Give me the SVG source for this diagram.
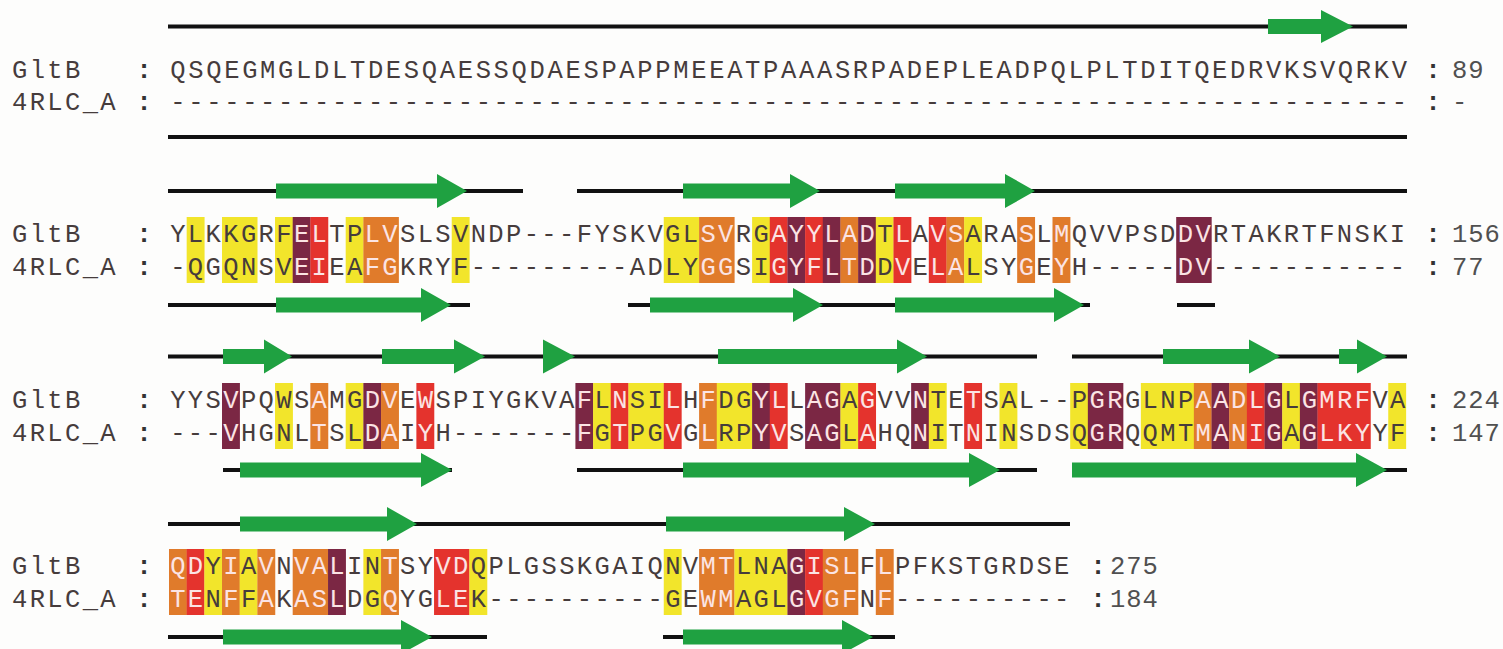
<svg xmlns="http://www.w3.org/2000/svg" width="1503" height="649" viewBox="0 0 1503 649">
<defs>
<style>
.bg{fill:#fdfdfc}
.seq{font-family:"Liberation Mono",monospace;font-size:25.5px;letter-spacing:2.37px;fill:#463c3c}
.s1{letter-spacing:2.66px}
.l{fill:#fbe4e4}
.num{font-family:"Liberation Mono",monospace;font-size:25.5px;letter-spacing:1px;fill:#505050}
.col{font-family:"Liberation Mono",monospace;font-size:26px;font-weight:bold;fill:#333;text-anchor:middle}
.y{fill:#f2e52b}.o{fill:#e07b2b}.r{fill:#e4332d}.m{fill:#7b2744}
.ln{stroke:#111;stroke-width:4;fill:none}
.ar{fill:#1fa141}
</style>
</defs>
<rect class="bg" x="0" y="0" width="1503" height="649"/>

<g id="row1">
<text class="seq" x="12" y="77.5">GltB</text><text class="col" x="144" y="77.5">:</text>
<text class="seq" x="12" y="109.5">4RLC_A</text><text class="col" x="144" y="109.5">:</text>
<text class="seq s1" x="170.3" y="77.5">QSQEGMGLDLTDESQAESSQDAESPAPPMEEATPAAASRPADEPLEADPQLPLTDITQEDRVKSVQRKV</text>
<text class="seq s1" x="170.3" y="109.5">---------------------------------------------------------------------</text>
<text class="col" x="1433" y="77.5">:</text><text class="num" x="1452" y="77.5">89</text>
<text class="col" x="1433" y="109.5">:</text><text class="num" x="1452" y="109.5">-</text>
</g>

<g id="row2">
<rect class="y" x="186.67" y="217" width="17.9" height="66"/>
<rect class="y" x="222.01" y="217" width="35.5" height="66"/>
<rect class="y" x="275.02" y="217" width="17.9" height="66"/>
<rect class="m" x="292.69" y="217" width="17.9" height="66"/>
<rect class="r" x="310.36" y="217" width="17.9" height="66"/>
<rect class="y" x="345.7" y="217" width="17.9" height="66"/>
<rect class="o" x="363.37" y="217" width="35.5" height="66"/>
<rect class="y" x="451.72" y="217" width="17.9" height="66"/>
<rect class="y" x="663.76" y="217" width="35.5" height="66"/>
<rect class="o" x="699.1" y="217" width="35.5" height="66"/>
<rect class="y" x="752.11" y="217" width="17.9" height="66"/>
<rect class="r" x="769.78" y="217" width="17.9" height="66"/>
<rect class="m" x="787.45" y="217" width="17.9" height="66"/>
<rect class="r" x="805.12" y="217" width="17.9" height="66"/>
<rect class="m" x="822.79" y="217" width="17.9" height="66"/>
<rect class="o" x="840.46" y="217" width="17.9" height="66"/>
<rect class="m" x="858.13" y="217" width="17.9" height="66"/>
<rect class="y" x="875.8" y="217" width="17.9" height="66"/>
<rect class="r" x="893.47" y="217" width="17.9" height="66"/>
<rect class="r" x="928.81" y="217" width="17.9" height="66"/>
<rect class="o" x="946.48" y="217" width="17.9" height="66"/>
<rect class="y" x="964.15" y="217" width="17.9" height="66"/>
<rect class="o" x="1017.16" y="217" width="17.9" height="66"/>
<rect class="o" x="1052.5" y="217" width="17.9" height="66"/>
<rect class="m" x="1176.19" y="217" width="35.5" height="66"/>
<text class="seq" x="12" y="242">GltB</text><text class="col" x="144" y="242">:</text>
<text class="seq" x="12" y="275">4RLC_A</text><text class="col" x="144" y="275">:</text>
<text class="seq" x="170.2" y="242">YLKKGRF<tspan class="l">EL</tspan>TP<tspan class="l">LV</tspan>SLSVNDP---FYSKVGL<tspan class="l">SV</tspan>RG<tspan class="l">AYYLAD</tspan>T<tspan class="l">L</tspan>A<tspan class="l">VS</tspan>ARA<tspan class="l">S</tspan>L<tspan class="l">M</tspan>QVVPSD<tspan class="l">DV</tspan>RTAKRTFNSKI</text>
<text class="seq" x="170.2" y="275">-QGQNSV<tspan class="l">EI</tspan>EA<tspan class="l">FG</tspan>KRYF---------ADLY<tspan class="l">GG</tspan>SI<tspan class="l">GYFLTD</tspan>D<tspan class="l">V</tspan>E<tspan class="l">LA</tspan>LSY<tspan class="l">G</tspan>E<tspan class="l">Y</tspan>H-----<tspan class="l">DV</tspan>-----------</text>
<text class="col" x="1433" y="242">:</text><text class="num" x="1452" y="242">156</text>
<text class="col" x="1433" y="275">:</text><text class="num" x="1452" y="275">77</text>
</g>

<g id="row3">
<rect class="m" x="222.01" y="383" width="17.9" height="66"/>
<rect class="y" x="275.02" y="383" width="17.9" height="66"/>
<rect class="o" x="310.36" y="383" width="17.9" height="66"/>
<rect class="y" x="345.7" y="383" width="17.9" height="66"/>
<rect class="m" x="363.37" y="383" width="17.9" height="66"/>
<rect class="o" x="381.04" y="383" width="17.9" height="66"/>
<rect class="r" x="416.38" y="383" width="17.9" height="66"/>
<rect class="m" x="575.41" y="383" width="17.9" height="66"/>
<rect class="y" x="593.08" y="383" width="17.9" height="66"/>
<rect class="r" x="610.75" y="383" width="17.9" height="66"/>
<rect class="y" x="628.42" y="383" width="35.5" height="66"/>
<rect class="r" x="663.76" y="383" width="17.9" height="66"/>
<rect class="o" x="699.1" y="383" width="17.9" height="66"/>
<rect class="y" x="716.77" y="383" width="35.5" height="66"/>
<rect class="m" x="752.11" y="383" width="17.9" height="66"/>
<rect class="r" x="769.78" y="383" width="17.9" height="66"/>
<rect class="m" x="805.12" y="383" width="35.5" height="66"/>
<rect class="y" x="840.46" y="383" width="17.9" height="66"/>
<rect class="r" x="858.13" y="383" width="17.9" height="66"/>
<rect class="m" x="911.14" y="383" width="17.9" height="66"/>
<rect class="y" x="928.81" y="383" width="17.9" height="66"/>
<rect class="r" x="964.15" y="383" width="17.9" height="66"/>
<rect class="y" x="999.49" y="383" width="17.9" height="66"/>
<rect class="y" x="1070.17" y="383" width="17.9" height="66"/>
<rect class="m" x="1087.84" y="383" width="35.5" height="66"/>
<rect class="y" x="1140.85" y="383" width="53.2" height="66"/>
<rect class="o" x="1193.86" y="383" width="17.9" height="66"/>
<rect class="m" x="1211.53" y="383" width="17.9" height="66"/>
<rect class="o" x="1229.2" y="383" width="17.9" height="66"/>
<rect class="r" x="1246.87" y="383" width="17.9" height="66"/>
<rect class="m" x="1264.54" y="383" width="17.9" height="66"/>
<rect class="y" x="1282.21" y="383" width="17.9" height="66"/>
<rect class="m" x="1299.88" y="383" width="17.9" height="66"/>
<rect class="r" x="1317.55" y="383" width="53.2" height="66"/>
<rect class="y" x="1388.23" y="383" width="17.9" height="66"/>
<text class="seq" x="12" y="408">GltB</text><text class="col" x="144" y="408">:</text>
<text class="seq" x="12" y="441">4RLC_A</text><text class="col" x="144" y="441">:</text>
<text class="seq" x="170.2" y="408">YYS<tspan class="l">V</tspan>PQWS<tspan class="l">A</tspan>MG<tspan class="l">DV</tspan>E<tspan class="l">W</tspan>SPIYGKVA<tspan class="l">F</tspan>L<tspan class="l">N</tspan>SI<tspan class="l">L</tspan>H<tspan class="l">F</tspan>DG<tspan class="l">YL</tspan>L<tspan class="l">AG</tspan>A<tspan class="l">G</tspan>VV<tspan class="l">N</tspan>TE<tspan class="l">T</tspan>SAL--P<tspan class="l">GR</tspan>GLNP<tspan class="l">AADLG</tspan>L<tspan class="l">GMRF</tspan>VA</text>
<text class="seq" x="170.2" y="441">---<tspan class="l">V</tspan>HGNL<tspan class="l">T</tspan>SL<tspan class="l">DA</tspan>I<tspan class="l">Y</tspan>H-------<tspan class="l">F</tspan>G<tspan class="l">T</tspan>PG<tspan class="l">V</tspan>G<tspan class="l">L</tspan>RP<tspan class="l">YV</tspan>S<tspan class="l">AG</tspan>L<tspan class="l">A</tspan>HQ<tspan class="l">N</tspan>IT<tspan class="l">N</tspan>INSDSQ<tspan class="l">GR</tspan>QQMT<tspan class="l">MANIG</tspan>A<tspan class="l">GLKY</tspan>YF</text>
<text class="col" x="1433" y="408">:</text><text class="num" x="1452" y="408">224</text>
<text class="col" x="1433" y="441">:</text><text class="num" x="1452" y="441">147</text>
</g>

<g id="row4">
<rect class="o" x="169" y="549" width="17.9" height="66"/>
<rect class="r" x="186.67" y="549" width="17.9" height="66"/>
<rect class="y" x="204.34" y="549" width="17.9" height="66"/>
<rect class="o" x="222.01" y="549" width="17.9" height="66"/>
<rect class="y" x="239.68" y="549" width="17.9" height="66"/>
<rect class="o" x="257.35" y="549" width="17.9" height="66"/>
<rect class="o" x="292.69" y="549" width="35.5" height="66"/>
<rect class="m" x="328.03" y="549" width="17.9" height="66"/>
<rect class="y" x="363.37" y="549" width="17.9" height="66"/>
<rect class="o" x="381.04" y="549" width="17.9" height="66"/>
<rect class="r" x="434.05" y="549" width="35.5" height="66"/>
<rect class="y" x="469.39" y="549" width="17.9" height="66"/>
<rect class="y" x="663.76" y="549" width="17.9" height="66"/>
<rect class="o" x="699.1" y="549" width="35.5" height="66"/>
<rect class="y" x="734.44" y="549" width="53.2" height="66"/>
<rect class="m" x="787.45" y="549" width="17.9" height="66"/>
<rect class="r" x="805.12" y="549" width="17.9" height="66"/>
<rect class="o" x="822.79" y="549" width="35.5" height="66"/>
<rect class="o" x="875.8" y="549" width="17.9" height="66"/>
<text class="seq" x="12" y="574">GltB</text><text class="col" x="144" y="574">:</text>
<text class="seq" x="12" y="607">4RLC_A</text><text class="col" x="144" y="607">:</text>
<text class="seq" x="170.2" y="574"><tspan class="l">QD</tspan>Y<tspan class="l">I</tspan>A<tspan class="l">V</tspan>N<tspan class="l">VAL</tspan>IN<tspan class="l">T</tspan>SY<tspan class="l">VD</tspan>QPLGSSKGAIQNV<tspan class="l">MT</tspan>LNA<tspan class="l">GISL</tspan>F<tspan class="l">L</tspan>PFKSTGRDSE</text>
<text class="seq" x="170.2" y="607"><tspan class="l">TE</tspan>N<tspan class="l">F</tspan>F<tspan class="l">A</tspan>K<tspan class="l">ASL</tspan>DG<tspan class="l">Q</tspan>YG<tspan class="l">LE</tspan>K----------GE<tspan class="l">WM</tspan>AGL<tspan class="l">GVGF</tspan>N<tspan class="l">F</tspan>----------</text>
<text class="col" x="1098" y="574">:</text><text class="num" x="1110" y="574">275</text>
<text class="col" x="1098" y="607">:</text><text class="num" x="1110" y="607">184</text>
</g>

<g id="connectors">
<path class="ln" d="M168 26.5H1407M168 137H1407"/>
<path class="ln" d="M168 191H523M577 191H1407M168 305H470M628 305H1090M1177 305H1215"/>
<path class="ln" d="M168 356.5H1037M1072 356.5H1407M223 470H452M577 470H1037M1072 470H1407"/>
<path class="ln" d="M168 524H1070M168 637H487M663 637H895"/>
<polygon class="ar" points="1268,19 1321,19 1321,10 1353,26.5 1321,43 1321,34 1268,34"/>
<polygon class="ar" points="276,183.5 437,183.5 437,174 467,191 437,208 437,198.5 276,198.5"/>
<polygon class="ar" points="683,183.5 790,183.5 790,174 820,191 790,208 790,198.5 683,198.5"/>
<polygon class="ar" points="895,183.5 1005,183.5 1005,174 1035,191 1005,208 1005,198.5 895,198.5"/>
<polygon class="ar" points="276,297.5 421,297.5 421,288 451,305 421,322 421,312.5 276,312.5"/>
<polygon class="ar" points="650,297.5 793,297.5 793,288 823,305 793,322 793,312.5 650,312.5"/>
<polygon class="ar" points="895,297.5 1054,297.5 1054,288 1084,305 1054,322 1054,312.5 895,312.5"/>
<polygon class="ar" points="223,349 264,349 264,339.5 292,356.5 264,373.5 264,364 223,364"/>
<polygon class="ar" points="382,349 454,349 454,339.5 485,356.5 454,373.5 454,364 382,364"/>
<polygon class="ar" points="543,339.5 575,356.5 543,373.5"/>
<polygon class="ar" points="718,349 897,349 897,339.5 927,356.5 897,373.5 897,364 718,364"/>
<polygon class="ar" points="1163,349 1249,349 1249,339.5 1280,356.5 1249,373.5 1249,364 1163,364"/>
<polygon class="ar" points="1339,349 1357,349 1357,339.5 1387,356.5 1357,373.5 1357,364 1339,364"/>
<polygon class="ar" points="240,462.5 421,462.5 421,453 452,470 421,487 421,477.5 240,477.5"/>
<polygon class="ar" points="683,462.5 969,462.5 969,453 1000,470 969,487 969,477.5 683,477.5"/>
<polygon class="ar" points="1072,462.5 1356,462.5 1356,453 1387,470 1356,487 1356,477.5 1072,477.5"/>
<polygon class="ar" points="240,516.5 387,516.5 387,507 417,524 387,541 387,531.5 240,531.5"/>
<polygon class="ar" points="666,516.5 844,516.5 844,507 875,524 844,541 844,531.5 666,531.5"/>
<polygon class="ar" points="223,629.5 401,629.5 401,620 432,637 401,654 401,644.5 223,644.5"/>
<polygon class="ar" points="683,629.5 842,629.5 842,620 873,637 842,654 842,644.5 683,644.5"/>
</g>
</svg>
